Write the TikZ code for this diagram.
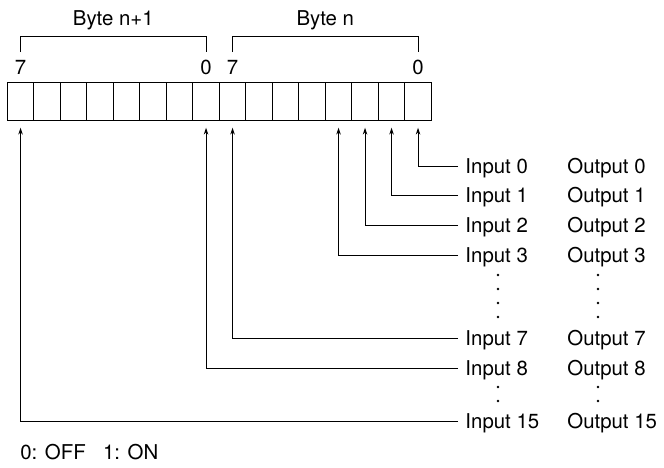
\documentclass[tikz,border=0pt]{standalone}
\usepackage{fontspec}
\setmainfont{TeX Gyre Heros}
\usetikzlibrary{arrows.meta,positioning,calc}

\begin{document}
\begin{tikzpicture}[x=0.5pt,y=-0.5pt,font=\fontsize{10.2}{12}\selectfont,
  cell/.style={draw,line width=0.6pt,minimum width=13.25pt,minimum height=19pt,inner sep=0pt,outer sep=0pt},
  bitno/.style={inner sep=0pt},
  sig/.style={anchor=west,inner ysep=0pt,inner xsep=3.5pt,text height=7.3pt,text depth=0pt},
  arr/.style={line width=0.5pt,-{Stealth[length=3.4pt,width=2.2pt]}}]
\useasboundingbox (0,0) rectangle (664,467);
% register, bit 15 on the left
\foreach \i in {0,...,15} {
   \pgfmathtruncatemacro\bit{15-\i}
   \node[cell] (c\bit) at (20.55+26.5*\i,101.7) {};
}
\foreach \bit/\1 in {15/7,8/0,7/7,0/0} {
   \node[bitno,above=3.8pt of c\bit] (d\bit) {\1};
}
\node[bitno] (bn1) at ($(d15)!.5!(d8)+(0,-47)$) {Byte n+1};
\node[bitno] (bn) at ($(d7)!.5!(d0)+(0,-47)$) {Byte n};
\draw[line width=0.5pt] ([yshift=4pt]d15.north) |- ([yshift=-2.85pt]bn1.south) -| ([yshift=4pt]d8.north);
\draw[line width=0.5pt] ([yshift=4pt]d7.north) |- ([yshift=-2.85pt]bn.south) -| ([yshift=4pt]d0.north);
% inputs and outputs
\foreach \bit/\y in {0/166,1/195,2/225,3/255,7/338,8/368,15/421} {
   \node[sig] (in\bit) at (458,\y) {Input \bit};
   \node[sig] (out\bit) at (560,\y) {Output \bit};
   \draw[arr] (in\bit.west) -| ([yshift=-3.5pt]c\bit.south);
}
\foreach \y in {275,289,303,317,387,401} {
   \fill (498,\y) circle (1.4);
   \fill (598,\y) circle (1.4);
}
\node[bitno,anchor=west] (note) at (20,452) {0: OFF\hspace{0.85em}1: ON};
\end{tikzpicture}
\end{document}
